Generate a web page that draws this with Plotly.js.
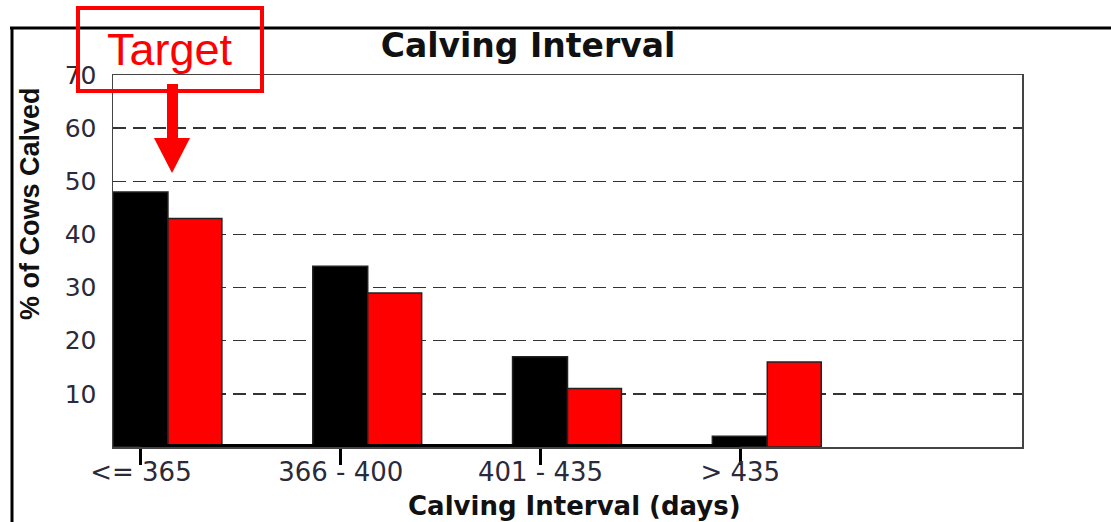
<!DOCTYPE html>
<html>
<head>
<meta charset="utf-8">
<script src="https://cdn.plot.ly/plotly-3.0.1.min.js"></script>
<style>html,body{margin:0;padding:0;background:#fff;}#chart{width:1111px;height:522px;}</style>
</head>
<body>
<div id="chart"></div>
<script>
// ---- data ----
const categories = ["<= 365", "366 - 400", "401 - 435", "> 435"];
const seriesBlack = [48, 34, 17, 2];
const seriesRed = [43, 29, 11, 16];
const baseline = [0, 0, 0, 0];
const yTickValues = [10, 20, 30, 40, 50, 60, 70];

// ---- layout helpers (pixel -> paper) ----
const W = 1111, H = 522;
const M = {l: 113, r: 89, t: 75, b: 75};
const PW = W - M.l - M.r, PH = H - M.t - M.b;
const px = x => (x - M.l) / PW;
const py = y => (H - M.b - y) / PH;

const traces = [
  {
    type: 'bar', x: categories, y: seriesBlack,
    offset: -0.14, width: 0.275,
    marker: {color: '#000000', line: {color: '#222', width: 1.5}},
    hoverinfo: 'x+y', showlegend: false
  },
  {
    type: 'bar', x: categories, y: seriesRed,
    offset: 0.135, width: 0.27,
    marker: {color: '#ff0000', line: {color: '#222', width: 1.5}},
    hoverinfo: 'x+y', showlegend: false
  },
  {
    type: 'scatter', mode: 'lines', x: categories, y: baseline,
    line: {color: '#000', width: 6}, cliponaxis: false,
    hoverinfo: 'skip', showlegend: false
  }
];

const layout = {
  width: W, height: H,
  margin: M,
  paper_bgcolor: '#fff', plot_bgcolor: '#fff',
  showlegend: false,
  font: {family: 'DejaVu Sans, sans-serif', color: '#222'},
  title: {
    text: '<b>Calving Interval</b>',
    font: {family: 'DejaVu Sans, sans-serif', size: 33, color: '#111'},
    xref: 'paper', x: px(528), xanchor: 'center',
    yref: 'container', y: 1 - 45 / H, yanchor: 'middle'
  },
  xaxis: {
    type: 'category',
    range: [-0.14, 4.41],
    showgrid: false, zeroline: false,
    showline: true, linecolor: '#444', linewidth: 1.5, mirror: true,
    ticks: 'outside', ticklen: 16, tickwidth: 3, tickcolor: '#000',
    ticklabelstandoff: -15,
    tickfont: {family: 'DejaVu Sans, sans-serif', size: 26, color: '#2a2a3a'},
    fixedrange: true
  },
  yaxis: {
    range: [0, 70],
    tickvals: yTickValues,
    showgrid: true, gridcolor: '#333', gridwidth: 1.5, griddash: '13px,7px',
    zeroline: false,
    showline: true, linecolor: '#444', linewidth: 1.5, mirror: true,
    ticks: '',
    ticklabelstandoff: 10,
    tickfont: {family: 'DejaVu Sans, sans-serif', size: 25, color: '#2a2a3a'},
    fixedrange: true
  },
  annotations: [
    {
      text: '<b>% of Cows Calved</b>', textangle: -90,
      xref: 'paper', yref: 'paper', x: px(30), y: py(204),
      xanchor: 'center', yanchor: 'middle', showarrow: false,
      font: {family: 'Liberation Sans, Arial, sans-serif', size: 27, color: '#111'}
    },
    {
      text: '<b>Calving Interval (days)</b>',
      xref: 'paper', yref: 'paper', x: px(574), y: py(506),
      xanchor: 'center', yanchor: 'middle', showarrow: false,
      font: {family: 'DejaVu Sans, sans-serif', size: 26, color: '#111'}
    },
    {
      text: 'Target',
      xref: 'paper', yref: 'paper', x: px(170), y: py(49),
      xanchor: 'center', yanchor: 'middle', showarrow: false,
      font: {family: 'Liberation Sans, Arial, sans-serif', size: 45, color: '#ff0000'}
    }
  ],
  shapes: [
    // outer frame
    {type: 'line', xref: 'paper', yref: 'paper', x0: px(12), x1: px(12), y0: py(28), y1: py(530), line: {color: '#000', width: 3}, layer: 'above'},
    {type: 'line', xref: 'paper', yref: 'paper', x0: px(10), x1: px(1115), y0: py(28), y1: py(28), line: {color: '#000', width: 3}, layer: 'above'},
    // target box
    {type: 'rect', xref: 'paper', yref: 'paper', x0: px(78), x1: px(262), y0: py(8), y1: py(91), line: {color: '#ff0000', width: 4}, fillcolor: 'rgba(0,0,0,0)', layer: 'above'},
    // arrow shaft
    {type: 'rect', xref: 'paper', yref: 'paper', x0: px(167), x1: px(178), y0: py(84), y1: py(140), line: {width: 0}, fillcolor: '#ff0000', layer: 'above'},
    // arrow head
    {type: 'path', xref: 'paper', yref: 'paper',
     path: 'M ' + px(154) + ' ' + py(138) + ' L ' + px(190) + ' ' + py(138) + ' L ' + px(172) + ' ' + py(173) + ' Z',
     line: {width: 0}, fillcolor: '#ff0000', layer: 'above'}
  ]
};

Plotly.newPlot('chart', traces, layout, {displayModeBar: false, staticPlot: true});
</script>
</body>
</html>
